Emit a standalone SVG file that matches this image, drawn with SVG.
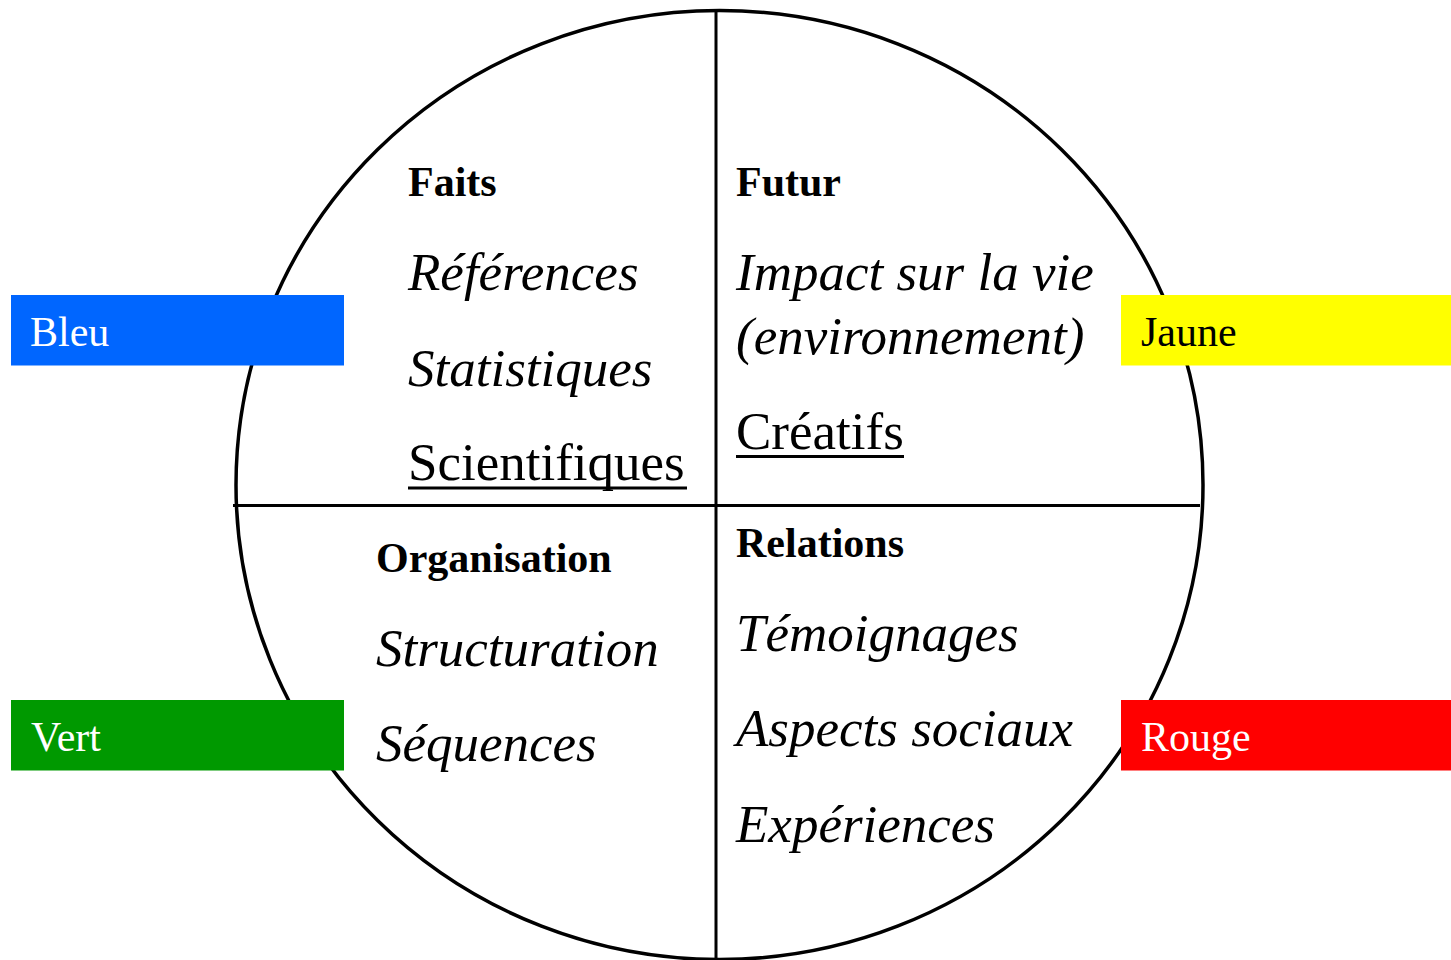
<svg xmlns="http://www.w3.org/2000/svg" width="1451" height="960" viewBox="0 0 1451 960">
<style>
.ln{stroke:#000;stroke-width:3;fill:none}
.t{font-family:"Liberation Serif","Times New Roman",serif;fill:#000}
.h{font-size:42px;font-weight:bold}
.i{font-size:53px;font-style:italic}
.u{font-size:53px}
.lab{font-size:42px}
</style>
<rect width="1451" height="960" fill="#fff"/>
<g id="circle">
<ellipse cx="719.5" cy="485" rx="483.5" ry="474.5" fill="none" stroke="#000" stroke-width="3.5"/>
</g>
<g id="connectors">
<line class="ln" x1="716" y1="10" x2="716" y2="960"/>
<line class="ln" x1="233" y1="505.5" x2="1200" y2="505.5"/>
</g>
<g id="faits">
<text class="t h" x="408" y="196">Faits</text>
<text class="t i" x="408" y="290">Références</text>
<text class="t i" x="408" y="386">Statistiques</text>
<text class="t u" x="408" y="480">Scientifiques</text>
<line x1="408" y1="488" x2="687" y2="488" stroke="#000" stroke-width="3"/>
</g>
<g id="futur">
<text class="t h" x="736" y="196">Futur</text>
<text class="t i" x="736" y="290">Impact sur la vie</text>
<text class="t i" x="736" y="354">(environnement)</text>
<text class="t u" x="736" y="449">Créatifs</text>
<line x1="736" y1="456.5" x2="904" y2="456.5" stroke="#000" stroke-width="3"/>
</g>
<g id="organisation">
<text class="t h" x="376" y="572">Organisation</text>
<text class="t i" x="376" y="666">Structuration</text>
<text class="t i" x="376" y="761">Séquences</text>
</g>
<g id="relations">
<text class="t h" x="736" y="557">Relations</text>
<text class="t i" x="736" y="651">Témoignages</text>
<text class="t i" x="736" y="746">Aspects sociaux</text>
<text class="t i" x="736" y="842">Expériences</text>
</g>
<g id="bleu">
<rect x="11" y="295" width="333" height="70.5" fill="#0066ff"/>
<text class="t lab" x="30" y="346" style="fill:#fff">Bleu</text>
</g>
<g id="jaune">
<rect x="1121" y="295" width="330" height="70.5" fill="#ffff00"/>
<text class="t lab" x="1141" y="346">Jaune</text>
</g>
<g id="vert">
<rect x="11" y="700" width="333" height="70.5" fill="#009900"/>
<text class="t lab" x="31" y="751" style="fill:#fff">Vert</text>
</g>
<g id="rouge">
<rect x="1121" y="700" width="330" height="70.5" fill="#ff0000"/>
<text class="t lab" x="1141" y="751" style="fill:#fff">Rouge</text>
</g>
</svg>
